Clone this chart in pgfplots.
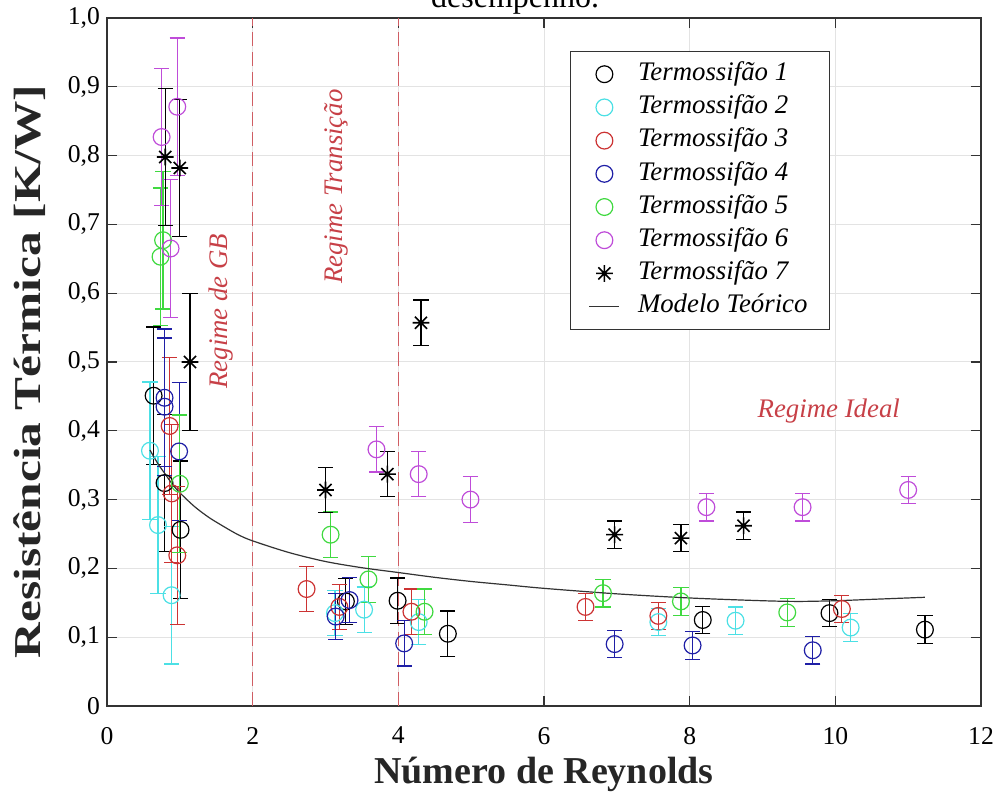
\documentclass[border=0pt]{standalone}
\usepackage{fontspec}
\setmainfont{Liberation Serif}
\usepackage{pgfplots}
\usepackage{pgfplotstable}
\pgfplotsset{compat=1.18}
\usetikzlibrary{calc}
\definecolor{cTa}{rgb}{0,0,0}
\definecolor{cTb}{rgb}{0.3,0.88,0.9}
\definecolor{cTc}{rgb}{0.8,0.2,0.2}
\definecolor{cTd}{rgb}{0.12,0.12,0.65}
\definecolor{cTe}{rgb}{0.25,0.85,0.25}
\definecolor{cTf}{rgb}{0.75,0.3,0.85}
\definecolor{regime}{rgb}{0.78,0.25,0.28}
\definecolor{axc}{rgb}{0.2,0.2,0.2}

\pgfdeclareplotmark{mstar}{%
  \pgfpathmoveto{\pgfqpoint{0pt}{\pgfplotmarksize}}%
  \pgfpathlineto{\pgfqpoint{0pt}{-\pgfplotmarksize}}%
  \pgfpathmoveto{\pgfqpoint{\pgfplotmarksize}{0pt}}%
  \pgfpathlineto{\pgfqpoint{-\pgfplotmarksize}{0pt}}%
  \pgfpathmoveto{\pgfqpoint{.72\pgfplotmarksize}{.72\pgfplotmarksize}}%
  \pgfpathlineto{\pgfqpoint{-.72\pgfplotmarksize}{-.72\pgfplotmarksize}}%
  \pgfpathmoveto{\pgfqpoint{-.72\pgfplotmarksize}{.72\pgfplotmarksize}}%
  \pgfpathlineto{\pgfqpoint{.72\pgfplotmarksize}{-.72\pgfplotmarksize}}%
  \pgfusepathqstroke}

\pgfplotstableread{
x y e
0.64 0.451 0.10
0.79 0.324 0.10
1.01 0.256 0.10
3.28 0.152 0.033
3.99 0.153 0.033
4.68 0.105 0.033
8.18 0.125 0.02
9.92 0.135 0.02
11.23 0.111 0.02
}\tA
\pgfplotstableread{
x y e
0.59 0.371 0.10
0.70 0.263 0.10
0.887 0.161 0.10
3.13 0.135 0.033
3.53 0.140 0.033
4.28 0.122 0.033
7.57 0.122 0.02
8.63 0.124 0.02
10.21 0.114 0.02
}\tB
\pgfplotstableread{
x y e
0.86 0.407 0.10
0.89 0.309 0.10
0.965 0.219 0.10
2.74 0.170 0.033
3.19 0.144 0.033
4.18 0.137 0.033
6.57 0.144 0.02
7.57 0.131 0.02
10.09 0.141 0.02
}\tC
\pgfplotstableread{
x y e
0.79 0.448 0.10
0.79 0.435 0.10
0.99 0.370 0.10
3.14 0.130 0.033
3.33 0.154 0.033
4.08 0.091 0.033
6.97 0.090 0.02
8.04 0.088 0.02
9.69 0.081 0.02
}\tD
\pgfplotstableread{
x y e
0.735 0.653 0.10
0.77 0.677 0.10
1.00 0.323 0.10
3.07 0.249 0.033
3.59 0.184 0.033
4.36 0.137 0.033
6.81 0.164 0.02
7.88 0.152 0.02
9.34 0.136 0.02
}\tE
\pgfplotstableread{
x y e
0.75 0.827 0.10
0.965 0.871 0.10
0.873 0.665 0.10
3.70 0.373 0.033
4.28 0.337 0.033
4.99 0.300 0.033
8.23 0.289 0.02
9.55 0.289 0.02
11.00 0.314 0.02
}\tF
\pgfplotstableread{
x y e
0.80 0.798 0.10
1.00 0.782 0.10
1.14 0.500 0.10
3.00 0.314 0.033
3.85 0.337 0.033
4.31 0.557 0.033
6.97 0.249 0.02
7.88 0.244 0.02
8.74 0.262 0.02
}\tG
\pgfplotstableread{
x y
0.59 0.372
0.70 0.352
0.80 0.337
0.90 0.322
1.00 0.310
1.20 0.290
1.40 0.274
1.60 0.261
1.80 0.249
2.00 0.240
2.50 0.223
3.00 0.210
3.50 0.201
4.00 0.194
4.50 0.187
5.00 0.181
5.50 0.176
6.00 0.171
7.00 0.163
8.00 0.157
9.00 0.153
9.50 0.152
10.00 0.153
10.50 0.155
11.23 0.158
}\tM

\begin{document}
\begin{tikzpicture}
\begin{axis}[
  name=ax,
  scale only axis, width=437pt, height=344pt,
  xmin=0, xmax=12, ymin=0, ymax=1,
  xtick={0,2,4,6,8,10,12},
  ytick={0,0.1,0.2,0.3,0.4,0.5,0.6,0.7,0.8,0.9,1.0},
  yticklabels={0,{0,1},{0,2},{0,3},{0,4},{0,5},{0,6},{0,7},{0,8},{0,9},{1,0}},
  /pgf/number format/assume math mode=true,
  tick label style={font=\rmfamily\fontsize{12.8}{14}\selectfont},
  xticklabel style={yshift=-7pt},
  tick align=inside, major tick length=5pt,
  axis line style={draw=axc, line width=0.8pt},
  every tick/.style={draw=axc, line width=0.6pt},
  grid=major, grid style={draw=black!11, line width=0.5pt},
  xlabel={Número de Reynolds},
  ylabel={Resistência Térmica [K/W]},
  label style={font=\rmfamily\fontsize{19}{22}\selectfont\bfseries, text=black!85},
  xlabel style={at={(axis description cs:0.5,-0.112)}, anchor=base},
  ylabel style={at={(axis description cs:-0.088,0.486)}, anchor=center, xscale=1.3},
  legend style={at={(0.53,0.952)}, anchor=north west, draw=axc, line width=0.6pt,
    font=\rmfamily\fontsize{13.4}{15}\selectfont\itshape, cells={anchor=west},
    inner xsep=9pt, inner ysep=3pt, column sep=7pt,
    nodes={text height=9.4pt, text depth=3.2pt, inner sep=2pt}},
  legend image code/.code={\draw[mark repeat=2,mark phase=2,#1] plot coordinates {(0pt,0pt)(7.5pt,0pt)(15pt,0pt)};},
  tp/.style={only marks, mark=#1, mark size=4.2pt, line width=0.6pt,
    error bars/.cd, y dir=both, y explicit,
    error bar style={line width=0.6pt},
    error mark options={mark size=3.8pt, line width=0.6pt, rotate=90}},
  tp/.default=o,
]
\draw[regime!85, line width=0.7pt, dash pattern=on 7pt off 3pt] (axis cs:2,0) -- (axis cs:2,1);
\draw[regime!85, line width=0.7pt, dash pattern=on 7pt off 3pt] (axis cs:4,0) -- (axis cs:4,1);
\addplot[cTa, tp] table[x=x, y=y, y error=e] {\tA};
\addlegendentry{Termossifão 1}
\addplot[cTb, tp] table[x=x, y=y, y error=e] {\tB};
\addlegendentry{Termossifão 2}
\addplot[cTc, tp] table[x=x, y=y, y error=e] {\tC};
\addlegendentry{Termossifão 3}
\addplot[cTd, tp] table[x=x, y=y, y error=e] {\tD};
\addlegendentry{Termossifão 4}
\addplot[cTe, tp] table[x=x, y=y, y error=e] {\tE};
\addlegendentry{Termossifão 5}
\addplot[cTf, tp] table[x=x, y=y, y error=e] {\tF};
\addlegendentry{Termossifão 6}
\addplot[black, mark options={line width=0.8pt}, tp=mstar] table[x=x, y=y, y error=e] {\tG};
\addlegendentry{Termossifão 7}
\addplot[black!80, line width=0.6pt, smooth, no marks] table[x=x, y=y] {\tM};
\addlegendentry{Modelo Teórico}
\node[regime, rotate=90, font=\rmfamily\fontsize{13.4}{15}\selectfont\itshape] at (axis cs:1.56,0.574) {Regime de GB};
\node[regime, rotate=90, font=\rmfamily\fontsize{13.4}{15}\selectfont\itshape] at (axis cs:3.15,0.755) {Regime Transição};
\node[regime, font=\rmfamily\fontsize{13.4}{15}\selectfont\itshape] at (axis cs:9.91,0.429) {Regime Ideal};
\end{axis}
\node[anchor=base, font=\rmfamily\fontsize{16}{18}\selectfont] at ($(ax.north west)!0.467!(ax.north east)+(0,5pt)$) {desempenho.};
\pgfresetboundingbox
\useasboundingbox ($(ax.south west)+(-53.5pt,-43pt)$) rectangle ($(ax.north east)+(8pt,9pt)$);
\end{tikzpicture}
\end{document}
